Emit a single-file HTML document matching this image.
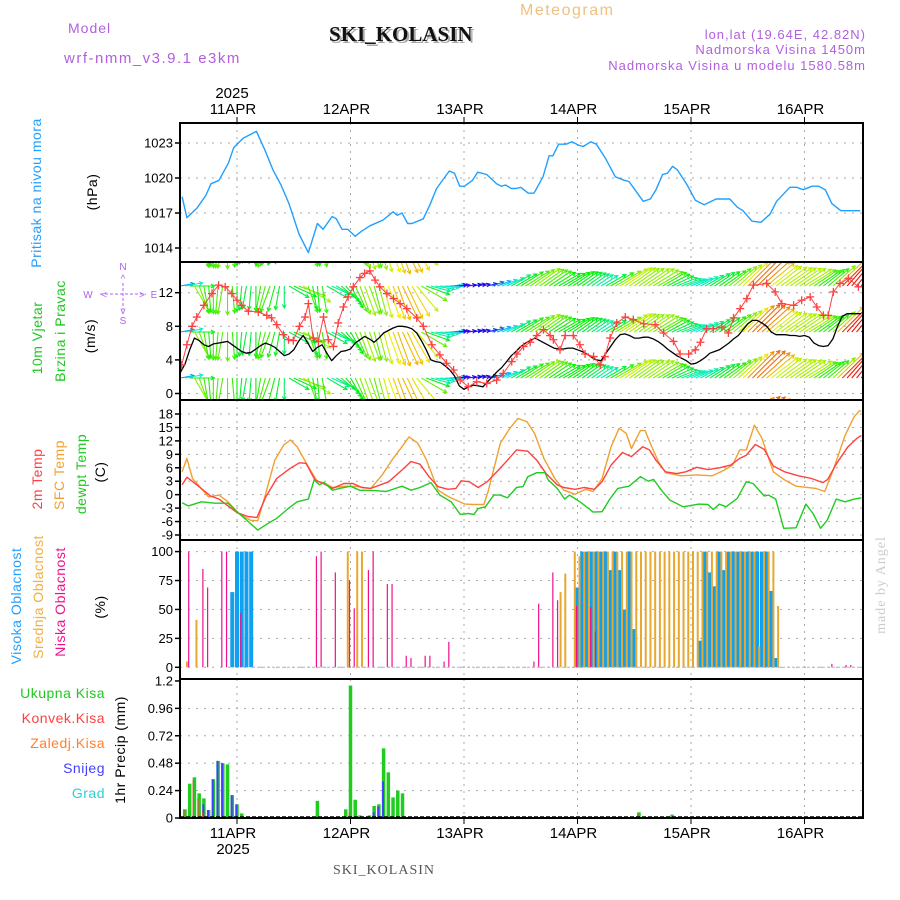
<!DOCTYPE html>
<html><head><meta charset="utf-8"><style>
html,body{margin:0;padding:0;background:#fff;}
svg{display:block;font-family:"Liberation Sans",sans-serif;}
</style></head><body>
<svg id="chart" width="900" height="900" viewBox="0 0 900 900" xmlns="http://www.w3.org/2000/svg">
<defs>
<clipPath id="cp1"><rect x="180" y="123" width="683" height="139"/></clipPath>
<clipPath id="cp2"><rect x="180" y="262" width="683" height="138"/></clipPath>
<clipPath id="cp3"><rect x="180" y="400" width="683" height="140"/></clipPath>
<clipPath id="cp4"><rect x="180" y="540" width="683" height="139"/></clipPath>
<clipPath id="cp5"><rect x="180" y="679" width="683" height="139"/></clipPath>
</defs>
<g>
<text x="520" y="15" font-size="16" fill="#f0c080" letter-spacing="1.5">Meteogram</text>
<text x="68" y="33" font-size="14" fill="#b060e0" letter-spacing="1">Model</text>
<text x="64" y="63" font-size="15" fill="#b060e0" letter-spacing="1.5">wrf-nmm_v3.9.1 e3km</text>
<text x="331" y="43" font-size="21" font-weight="bold" font-family="Liberation Serif,serif" fill="#aaa">SKI_KOLASIN</text>
<text x="329" y="41" font-size="21" font-weight="bold" font-family="Liberation Serif,serif" fill="#111">SKI_KOLASIN</text>
<text x="866" y="39" font-size="13" fill="#b060e0" text-anchor="end" letter-spacing="1">lon,lat (19.64E, 42.82N)</text>
<text x="866" y="54" font-size="13" fill="#b060e0" text-anchor="end" letter-spacing="1">Nadmorska Visina 1450m</text>
<text x="866" y="70" font-size="13" fill="#b060e0" text-anchor="end" letter-spacing="1">Nadmorska Visina u modelu 1580.58m</text>
<text x="384" y="874" font-size="14" font-family="Liberation Serif,serif" fill="#555" text-anchor="middle" letter-spacing="1">SKI_KOLASIN</text>
<text transform="translate(885,585) rotate(-90)" font-size="14" font-family="Liberation Serif,serif" fill="#ccc" text-anchor="middle" letter-spacing="1">made by Angel</text>
</g>
<g font-size="14" letter-spacing="0.5">
<text transform="translate(41,193) rotate(-90)" fill="#20a0ff" text-anchor="middle">Pritisak na nivou mora</text>
<text transform="translate(97,192) rotate(-90)" fill="#000" text-anchor="middle">(hPa)</text>
<text transform="translate(42,338) rotate(-90)" fill="#20c820" text-anchor="middle">10m Vjetar</text>
<text transform="translate(65,331) rotate(-90)" fill="#20c820" text-anchor="middle">Brzina i Pravac</text>
<text transform="translate(95,336) rotate(-90)" fill="#000" text-anchor="middle">(m/s)</text>
<text transform="translate(42,479) rotate(-90)" fill="#ff4040" text-anchor="middle">2m Temp</text>
<text transform="translate(64,475) rotate(-90)" fill="#f0a030" text-anchor="middle">SFC Temp</text>
<text transform="translate(86,474) rotate(-90)" fill="#20c820" text-anchor="middle">dewpt Temp</text>
<text transform="translate(105,472) rotate(-90)" fill="#000" text-anchor="middle">(C)</text>
<text transform="translate(21,606) rotate(-90)" fill="#20a0ff" text-anchor="middle">Visoka Oblacnost</text>
<text transform="translate(43,597) rotate(-90)" fill="#f0b040" text-anchor="middle">Srednja Oblacnost</text>
<text transform="translate(65,602) rotate(-90)" fill="#f0108c" text-anchor="middle">Niska Oblacnost</text>
<text transform="translate(105,607) rotate(-90)" fill="#000" text-anchor="middle">(%)</text>
<text transform="translate(125,750) rotate(-90)" fill="#000" text-anchor="middle">1hr Precip (mm)</text>
<text x="105" y="698" fill="#20c820" text-anchor="end">Ukupna Kisa</text>
<text x="105" y="723" fill="#ff4040" text-anchor="end">Konvek.Kisa</text>
<text x="105" y="748" fill="#ff8030" text-anchor="end">Zaledj.Kisa</text>
<text x="105" y="773" fill="#4040ff" text-anchor="end">Snijeg</text>
<text x="105" y="798" fill="#30d0d0" text-anchor="end">Grad</text>
</g>
<g fill="#b060f0" font-size="10" text-anchor="middle">
<text x="123" y="270">N</text><text x="123" y="324">S</text><text x="88" y="298">W</text><text x="154" y="298">E</text>
<text x="123" y="282">^</text>
<line x1="123" y1="283" x2="123" y2="310" stroke="#b060f0" stroke-dasharray="3,2"/>
<line x1="100" y1="294" x2="146" y2="294" stroke="#b060f0" stroke-dasharray="3,2"/>
<text x="104" y="298">&lt;</text><text x="142" y="298">&gt;</text><text x="123" y="314">v</text>
</g>
<g id="layer"></g>
</svg>
<script>
// ---------- DATA ----------
const dayLabels = ["11APR","12APR","13APR","14APR","15APR","16APR"];
const yearLabel = "2025";
const pressureTicks = [1014,1017,1020,1023];
const windTicks = [0,4,8,12];
const tempTicks = [-9,-6,-3,0,3,6,9,12,15,18];
const cloudTicks = [0,25,50,75,100];
const precipTicks = [0,0.24,0.48,0.72,0.96,1.2];
const precipTickLabels = ["0","0.24","0.48","0.72","0.96","1.2"];

const pressHours = [-11.6,-10.6,-8.5,-6.6,-5.5,-3.8,-1.8,-0.7,1.3,4.1,6.0,7.6,9.3,11.0,13.1,15.1,17.0,18.2,20.1,21.0,22.2,23.4,25.0,26.2,28.1,30.9,33.0,33.9,34.9,36.1,37.0,39.4,40.8,42.2,44.9,46.0,47.1,48.1,49.8,50.9,52.8,54.9,55.9,56.8,58.0,59.0,60.0,61.6,62.8,64.7,66.0,66.8,68.0,69.6,70.8,72.3,73.2,74.8,76.0,77.9,80.0,81.9,82.9,85.9,87.4,88.6,90.0,91.0,92.1,93.1,95.2,96.9,98.8,101.3,104.2,105.8,107.0,108.9,110.8,112.7,114.1,116.9,118.3,119.7,121.6,123.0,124.4,125.8,127.7,131.8];
const pressVals = [1018.4,1016.6,1017.4,1018.5,1019.5,1019.8,1021.3,1022.6,1023.4,1024.0,1022.3,1020.7,1019.4,1017.8,1015.2,1013.6,1016.1,1015.6,1016.7,1016.5,1015.6,1015.6,1015.0,1015.4,1015.9,1016.4,1017.1,1016.8,1017.0,1016.1,1016.1,1016.5,1017.7,1019.1,1020.6,1020.4,1019.3,1019.3,1019.8,1020.5,1020.3,1019.5,1019.3,1019.4,1019.1,1019.1,1019.2,1018.7,1018.7,1020.1,1021.9,1021.9,1022.9,1022.9,1023.1,1022.8,1022.7,1023.1,1022.9,1021.7,1020.1,1019.8,1019.7,1018.0,1018.2,1019.0,1020.3,1020.4,1021.0,1020.7,1019.4,1018.1,1017.7,1018.2,1018.2,1017.5,1017.2,1016.3,1016.2,1016.9,1018.0,1019.2,1019.2,1019.0,1019.3,1019.3,1019.0,1017.8,1017.2,1017.2];

// hourly wind, hours -12..132
const windSpd = [2.5,3.5,5.2,6.6,6.3,5.8,5.6,5.9,6.0,6.1,6.2,5.8,5.4,5.0,4.8,4.9,5.3,5.7,6.0,5.8,5.5,5.0,4.5,4.7,5.2,6.2,6.9,6.0,5.0,5.5,5.8,4.8,3.9,4.5,5.0,5.1,5.3,6.0,6.4,6.8,6.5,6.1,6.6,7.2,7.5,7.8,8.0,8.0,7.9,7.7,7.2,6.3,5.2,4.0,3.8,3.7,3.3,2.8,2.1,0.9,0.5,0.8,1.0,0.9,0.8,1.4,2.0,2.6,3.1,3.8,4.5,5.0,5.6,6.0,6.3,6.6,6.3,6.0,5.7,5.4,5.3,5.3,5.4,5.4,5.2,5.0,4.7,4.3,4.0,3.9,4.8,5.6,6.4,7.0,7.1,6.9,6.6,6.6,6.7,6.7,6.5,6.2,5.8,5.3,4.9,4.5,4.2,3.9,3.5,3.6,3.9,4.3,4.8,5.0,5.2,5.6,6.0,6.5,6.9,7.6,8.3,8.7,8.7,8.4,8.0,7.3,7.0,7.0,7.0,6.9,6.9,6.8,6.9,6.7,6.0,5.7,5.6,5.7,6.5,8.0,9.2,9.5,9.5,9.5,9.5];
const windDir = [260,260,270,330,340,350,355,0,5,10,0,355,0,5,10,5,0,10,15,20,15,10,0,300,295,290,300,340,350,355,350,300,295,300,310,320,330,335,340,340,340,345,345,345,340,340,340,335,335,330,320,300,290,285,280,275,270,265,265,262,260,260,258,255,255,255,250,250,248,245,240,240,238,238,236,235,235,235,236,238,240,240,238,236,235,235,235,235,236,238,240,240,240,238,236,235,235,235,236,236,238,240,240,242,245,248,250,250,248,245,242,240,238,236,235,235,232,230,228,226,225,225,226,228,230,232,232,234,235,235,236,236,238,238,236,235,232,230,228,226,225,222,220,220,220];

const gustHours = [-11.7,-10.6,-9.5,-8.5,-7.0,-5.3,-3.9,-2.5,-1.1,0,1.0,2.4,4.5,6.3,7.3,8.4,9.8,10.9,11.9,13.2,14.4,15.1,16.1,17.2,18.3,19.3,20.4,21.4,22.5,23.5,24.6,26.0,27.0,28.1,29.2,30.2,31.7,33.1,34.5,35.9,38.0,39.4,41.2,42.9,44.3,45.8,47.2,48.9,50.7,52.8,54.9,56.3,58.1,59.2,60.6,62.0,63.4,64.8,66.2,66.9,68.3,69.4,71.1,72.5,73.6,75.4,76.8,77.8,78.9,80.3,82.1,83.8,86.0,88.4,90.2,92.3,93.7,95.5,96.9,98.0,99.3,100.7,102.5,103.9,105.0,106.4,107.8,109.2,112.0,113.8,115.2,117.7,119.4,121.2,122.6,124.0,125.0,126.1,127.5,129.3,131.4];
const gustVals = [3.4,5.8,8.0,9.1,10.5,11.9,12.9,12.7,11.9,11.1,10.5,9.8,9.7,9.3,9.0,8.2,7.0,6.4,6.3,8.0,9.1,10.7,6.6,6.2,9.1,6.4,5.6,8.4,10.3,11.5,12.7,13.8,14.3,14.6,13.5,12.7,11.9,11.3,10.7,10.1,9.0,8.0,5.8,4.6,3.6,2.8,1.6,0.8,1.4,1.2,1.6,2.4,3.8,4.7,5.6,6.1,6.9,7.6,6.9,6.4,5.2,6.9,6.9,5.8,4.7,4.4,3.4,4.4,6.6,8.4,9.1,8.8,8.3,8.2,7.2,6.2,4.7,4.7,5.2,6.1,7.7,7.7,7.9,7.2,9.0,10.1,11.3,12.9,13.1,12.1,10.7,10.5,11.1,11.5,10.3,9.3,9.3,12.1,13.1,13.7,12.7];

const t2Hours = [-11.6,-10.6,-8.5,-5.6,-3.8,-1.9,0,2.4,4.2,6.1,8.4,11.3,13.2,14.6,16.5,18.4,20.2,22.6,24.5,26.4,28.3,32.1,34.9,36.8,38.7,40.6,42.5,44.6,46.3,47.4,49.1,51.0,52.9,55.3,57.2,59.1,61.5,63.4,65.3,67.7,69.1,71.5,73.4,75.6,77.2,79.1,81.5,83.4,85.8,87.2,88.6,90.6,93.0,94.9,97.2,99.6,102.0,104.4,106.3,107.7,109.6,111.5,113.4,115.8,118.7,121.5,123.9,124.9,126.8,129.2,131.1,132];
const t2Vals = [2.2,3.9,2.2,-0.3,-1.0,-2.5,-4.0,-4.9,-5.1,-0.5,3.6,5.9,7.1,7.0,3.3,2.4,1.4,2.5,2.5,1.6,1.4,2.9,5.5,7.4,6.8,4.0,1.8,1.2,1.4,3.1,2.9,1.6,2.9,5.5,7.7,10.0,9.7,7.7,4.8,2.2,1.6,1.2,1.6,1.2,2.9,6.6,9.4,8.5,10.7,10.0,7.7,5.1,4.7,5.1,6.1,5.6,6.0,6.6,8.1,8.8,11.2,10.1,6.4,5.1,4.2,3.6,2.7,3.4,7.0,10.7,12.6,13.2];
const sfcHours = [-11.6,-10.6,-9.4,-6.0,-3.8,-1.9,0.4,2.8,4.4,6.1,8.0,9.9,11.3,12.7,15.1,17.0,18.4,20.2,23.1,25.4,28.3,30.7,33.0,34.9,36.4,38.2,40.1,42.5,44.8,48.2,50.1,52.2,53.1,55.7,57.7,59.4,61.3,62.9,64.9,67.2,69.1,71.5,73.7,75.3,77.2,79.1,80.8,82.3,83.4,85.3,86.3,87.7,89.1,90.6,93.9,97.2,100.5,102.9,104.8,106.3,107.7,109.4,111.0,113.4,115.8,118.2,122.4,124.3,126.2,128.6,130.5,131.6,132];
const sfcVals = [5.1,8.1,3.6,-0.5,-0.1,-1.6,-4.2,-5.7,-5.8,0.3,7.7,11.1,12.2,10.7,6.2,2.9,2.7,1.6,1.9,1.8,1.4,4.4,8.1,10.7,12.9,11.5,7.7,1.0,-0.5,-2.1,-2.2,-2.2,0.7,11.5,14.8,17.0,16.3,13.7,8.1,3.6,1.0,0.1,1.2,0.7,3.6,10.7,14.8,13.7,10.3,14.3,14.3,10.7,7.4,4.9,4.2,4.4,4.2,5.4,6.6,10.0,10.0,15.5,12.6,5.1,3.3,1.9,1.4,0.7,5.9,13.3,17.4,18.7,18.7];
const dewHours = [-11.6,-10.3,-7.5,-4.7,-1.9,0,2.4,4.4,6.6,8.4,10.8,12.7,15.1,16.3,17.4,18.4,20.2,21.7,24.0,25.9,29.2,31.6,34.9,36.8,38.7,41.0,42.9,45.3,47.2,48.9,50.1,51.0,52.5,54.3,55.7,57.2,59.1,60.5,61.5,63.4,65.1,65.8,67.7,69.3,70.3,72.5,73.9,75.3,77.2,78.7,80.5,82.9,85.3,87.0,88.1,89.6,91.5,94.3,97.7,99.6,100.7,102.0,103.4,105.8,107.7,109.1,111.5,112.4,113.9,115.6,118.2,120.3,121.8,123.4,124.8,126.7,128.6,130.5,132];
const dewVals = [-1.8,-2.5,-1.6,-1.9,-1.9,-3.8,-6.0,-7.9,-6.4,-5.3,-3.1,-1.6,-1.0,3.3,2.2,2.7,1.0,1.4,1.9,1.0,0.9,0.7,1.9,1.0,1.6,2.7,-0.1,-1.6,-4.4,-4.2,-4.4,-3.1,-2.7,-0.1,-0.1,-0.7,1.6,1.8,4.0,4.9,4.9,3.3,1.4,-1.0,-0.1,-1.6,-2.7,-3.9,-3.8,-1.2,1.4,1.9,4.0,3.0,3.4,1.2,-1.2,-2.7,-2.1,-2.2,-3.3,-2.1,-2.7,-0.8,2.9,2.5,-0.3,-0.1,-1.0,-7.5,-7.4,-2.1,-4.2,-7.5,-5.7,-1.0,-1.6,-1.0,-0.7];

const highCloudHours = [-1,0,1,2,3,72,73,74,75,76,77,78,79,80,81,82,83,84,98,99,100,101,102,103,104,105,106,107,108,109,110,111,112,113,114];
const highCloudVals = [65,100,100,100,100,69,100,100,100,100,100,100,84,100,84,50,100,33,23,100,82,70,100,84,100,100,100,100,100,100,100,100,100,66,8];
const midCloudHours = [-11,-9,23,25,26,68,69,71,72,73,74,75,76,77,78,79,80,81,82,83,84,85,86,87,88,89,90,91,92,93,94,95,96,97,98,99,100,101,102,103,104,105,106,107,108,109,110,111,112,113,114];
const midCloudVals = [5,41,100,100,100,65,81,100,96,100,100,100,100,100,100,100,100,100,100,100,100,100,100,100,100,100,100,100,100,100,100,100,100,100,100,100,100,100,100,100,100,100,100,100,100,100,18,100,100,100,53];
const lowCloudHours = [-10,-7,-6,-3,-2,1,17,18,21,24,25,28,29,32,33,36,37,40,41,44,45,63,64,67,68,72,75,76,126,129,130];
const lowCloudVals = [100,85,69,100,100,47,96,100,82,75,51,84,100,72,72,10,8,10,10,5,22,5,55,82,58,53,52,31,3,2,2];

const precipHours = [-11,-10,-9,-8,-7,-6,-5,-4,-3,-2,-1,0,1,17,23,24,25,26,28,29,30,31,32,33,34,35,67,85,92];
const precipTotal = [0.076,0.30,0.356,0.216,0.172,0.07,0.339,0.5,0.48,0.47,0.2,0.12,0.04,0.15,0.076,1.16,0.16,0.023,0.023,0.105,0.12,0.61,0.40,0.18,0.24,0.216,0.01,0.05,0.03];
const precipSnow = [0,0,0,0,0.12,0.07,0.34,0.5,0.48,0,0.2,0.12,0,0,0,0,0,0,0,0.05,0.1,0.32,0,0,0,0,0,0,0];
const precipConv = [0.076,0,0.33,0.17,0.05,0,0,0,0,0,0,0,0,0,0,0.05,0,0,0,0,0,0,0,0,0,0,0,0.04,0];

// ---------- SCALES ----------
const L = 180, R = 863;
const panels = [[123,262],[262,400],[400,540],[540,679],[679,818]];
const X = h => 237 + h * 113.5 / 24;
const yP = p => 143 + (1023 - p) * 35 / 3;
const yW = v => 393.5 - v * 8.4;
const yT = t => 414 + (18 - t) * 121 / 27;
const yC = c => 667.3 - c * 1.157;
const yR = r => 818 - r * 114.2;

const NS = "http://www.w3.org/2000/svg";
const layer = document.getElementById('layer');
function mk(tag, attrs, parent) {
  const e = document.createElementNS(NS, tag);
  for (const k in attrs) e.setAttribute(k, attrs[k]);
  (parent || layer).appendChild(e);
  return e;
}
function grp(name, clip) {
  const g = mk('g', clip ? {'clip-path': 'url(#' + clip + ')'} : {});
  
  
  return g;
}

// ---------- GRID ----------
const grid = grp('grid-lines');
for (let d = 0; d < dayLabels.length; d++) {
  const x = X(d * 24);
  panels.forEach(p => {
    const ln = mk('line', {x1: x, x2: x, y1: p[0], y2: p[1], stroke: '#aaa', 'stroke-dasharray': '2,5'}, grid);
    
    
  });
}
function hgrid(vals, fy, p) {
  vals.forEach(v => {
    const y = fy(v);
    if (y < p[0] + 2 || y > p[1] - 1) return;
    const ln = mk('line', {x1: L, x2: R, y1: y, y2: y, stroke: '#aaa', 'stroke-dasharray': '2,6'}, grid);
    
    
  });
}
hgrid(pressureTicks, yP, panels[0]);
hgrid(windTicks, yW, panels[1]);
hgrid(tempTicks, yT, panels[2]);
hgrid(cloudTicks, yC, panels[3]);
hgrid(precipTicks, yR, panels[4]);

// ---------- TICKS ----------
function yticks(vals, labels, fy, name) {
  const g = grp(name);
  vals.forEach((v, i) => {
    const y = fy(v);
    mk('line', {x1: L - 5, x2: L, y1: y, y2: y, stroke: '#000', 'stroke-width': 1.5}, g);
    const t = mk('text', {x: L - 7, y: y + 4.5, 'font-size': 13, 'text-anchor': 'end', fill: '#000'}, g);
    t.textContent = labels[i];
    
    
  });
}
yticks(pressureTicks, pressureTicks.map(String), yP, 'pressure-y-axis');
yticks(windTicks, windTicks.map(String), yW, 'wind-y-axis');
yticks(tempTicks, tempTicks.map(String), yT, 'temp-y-axis');
yticks(cloudTicks, cloudTicks.map(String), yC, 'cloud-y-axis');
yticks(precipTicks, precipTickLabels, yR, 'precip-y-axis');

const xax = grp('x-axis-labels');
dayLabels.forEach((lab, d) => {
  const x = X(d * 24);
  mk('line', {x1: x, x2: x, y1: 117, y2: 123, stroke: '#000'}, xax);
  mk('line', {x1: x, x2: x, y1: 818, y2: 824, stroke: '#000'}, xax);
  const t1 = mk('text', {x: x - 4, y: 114, 'font-size': 15, 'text-anchor': 'middle', fill: '#000'}, xax);
  t1.textContent = lab;
  
  
  const t2 = mk('text', {x: x - 4, y: 838, 'font-size': 15, 'text-anchor': 'middle', fill: '#000'}, xax);
  t2.textContent = lab;
  
  
});
const y1 = mk('text', {x: X(0) - 5, y: 98, 'font-size': 15, 'text-anchor': 'middle'}, xax);
y1.textContent = yearLabel;


const y2 = mk('text', {x: X(0) - 4, y: 854, 'font-size': 15, 'text-anchor': 'middle'}, xax);
y2.textContent = yearLabel;



// ---------- LINES ----------
function line(hours, vals, fy, color, clip, name, w) {
  const g = grp(name, clip);
  const d = hours.map((h, i) => (i ? 'L' : 'M') + X(h).toFixed(1) + ',' + fy(vals[i]).toFixed(1)).join('');
  mk('path', {d: d, fill: 'none', stroke: color, 'stroke-width': w || 1.4, 'stroke-linejoin': 'round'}, g);
  return g;
}
line(pressHours, pressVals, yP, '#20a0ff', 'cp1', 'pressure-line');

// wind arrows
const wg = grp('wind-arrows', 'cp2');
const rows = [240, 286, 332, 378, 424];
windSpd.forEach((v, i) => {
  const h = i - 12;
  const x = X(h);
  const phi = (windDir[i] + 180) * Math.PI / 180;
  const dx = Math.sin(phi), dy = -Math.cos(phi);
  const len = 4 + 4 * v;
  let hue = 270 - 28 * v; if (hue < 0) hue += 360;
  const col = 'hsl(' + hue + ',95%,48%)';
  rows.forEach(y0 => {
    const x2 = x + dx * len, y2 = y0 + dy * len;
    const a = Math.atan2(dy, dx);
    const hx1 = x2 - 4 * Math.cos(a - 0.5), hy1 = y2 - 4 * Math.sin(a - 0.5);
    const hx2 = x2 - 4 * Math.cos(a + 0.5), hy2 = y2 - 4 * Math.sin(a + 0.5);
    const p = mk('path', {d: 'M' + x + ',' + y0 + 'L' + x2 + ',' + y2 + 'M' + hx1 + ',' + hy1 + 'L' + x2 + ',' + y2 + 'L' + hx2 + ',' + hy2, stroke: col, 'stroke-width': 1.1, fill: 'none'}, wg);
    
    
  });
});
// wind speed line
const wsHours = windSpd.map((v, i) => i - 12);
line(wsHours, windSpd, yW, '#000', 'cp2', 'wind-speed-line', 1.3);
// gusts
const gg = line(gustHours, gustVals, yW, '#ff4040', 'cp2', 'wind-gust-line', 1);
gustHours.forEach((h, i) => {
  const x = X(h), y = yW(gustVals[i]);
  const c = mk('path', {d: 'M' + (x - 4) + ',' + y + 'h8M' + x + ',' + (y - 4) + 'v8', stroke: '#ff4040', 'stroke-width': 1.3}, gg);
  
  
});

line(sfcHours, sfcVals, yT, '#f0a030', 'cp3', 'sfc-temp-line');
line(t2Hours, t2Vals, yT, '#ff4040', 'cp3', 'temp-2m-line');
line(dewHours, dewVals, yT, '#20cc20', 'cp3', 'dewpoint-line');

// ---------- CLOUD BARS ----------
function bars(hours, vals, fy, color, w, off, clip, name, base) {
  const g = grp(name, clip);
  hours.forEach((h, i) => {
    if (!vals[i]) return;
    const x = X(h) + off, y = fy(vals[i]);
    const r = mk('rect', {x: x - w / 2, y: y, width: w, height: Math.max(0.5, base - y), fill: color}, g);
    
    
  });
}
bars(highCloudHours, highCloudVals, yC, '#10a0f0', 4, 0, 'cp4', 'high-cloud-bars', yC(0));
bars(midCloudHours, midCloudVals, yC, '#e8a830', 2, 2, 'cp4', 'mid-cloud-bars', yC(0));
bars(lowCloudHours, lowCloudVals, yC, '#f0108c', 1.2, -1, 'cp4', 'low-cloud-bars', yC(0));
mk('line', {x1: 252, x2: 860, y1: yC(0), y2: yC(0), stroke: '#b0b0e0', 'stroke-dasharray': '3,2'}, layer);

// ---------- PRECIP ----------
bars(precipHours, precipTotal, yR, '#20cc20', 3.5, 0, 'cp5', 'total-precip-bars', yR(0));
bars(precipHours, precipSnow, yR, '#4040ff', 2, -0.6, 'cp5', 'snow-bars', yR(0));
bars(precipHours, precipConv, yR, '#ff4040', 1.2, -1.2, 'cp5', 'convective-bars', yR(0));
mk('line', {x1: L, x2: R, y1: 817, y2: 817, stroke: '#000', 'stroke-dasharray': '4,2', 'stroke-width': 1.5}, layer);

// ---------- FRAMES ----------
panels.forEach(p => {
  const f = mk('rect', {x: L, y: p[0], width: R - L, height: p[1] - p[0], fill: 'none', stroke: '#000', 'stroke-width': 2});
  
  
});
</script>
</body></html>
